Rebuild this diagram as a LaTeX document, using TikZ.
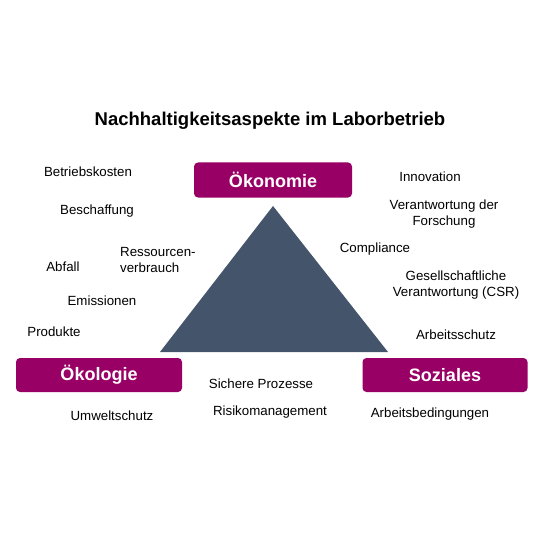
\documentclass[tikz,border=0pt]{standalone}
\usepackage{fontspec}
\setmainfont{Liberation Sans}
\definecolor{lila}{RGB}{153,0,102}
\definecolor{schiefer}{RGB}{68,84,106}
\tikzset{
  saeule/.style={fill=lila, rounded corners=4pt, text=white, font=\bfseries\fontsize{18}{20}\selectfont, inner sep=0pt},
  aspekt/.style={font=\fontsize{13.3}{15.7}\selectfont, align=center, inner sep=0pt}
}
\begin{document}
\begin{tikzpicture}[x=1pt, y=-1pt]
\useasboundingbox (0,0) rectangle (540,540);

\node[font=\bfseries\fontsize{18.5}{20}\selectfont] (Titel) at (270,121) {Nachhaltigkeitsaspekte im Laborbetrieb};

\fill[schiefer] (160,352) -- (273,206) -- (388,352) -- cycle;

\node[saeule, minimum width=158pt, minimum height=35pt] (Oekonomie) at (273,180) {Ökonomie};
\node[saeule, minimum width=166pt, minimum height=34pt] (Oekologie) at (99,375) {Ökologie};
\node[saeule, minimum width=165pt, minimum height=34pt] (Soziales) at (445,375) {Soziales};

% linke Seite
\node[aspekt] (Betriebskosten) at (88,172) {Betriebskosten};
\node[aspekt] (Beschaffung) at (97,211) {Beschaffung};
\node[aspekt, align=left, anchor=west] (Ressourcen) at (120,260) {Ressourcen-\\verbrauch};
\node[aspekt] (Abfall) at (63,267) {Abfall};
\node[aspekt] (Emissionen) at (102,301) {Emissionen};
\node[aspekt] (Produkte) at (54,332) {Produkte};
\node[aspekt] (Umweltschutz) at (112,416) {Umweltschutz};

% Mitte
\node[aspekt] (Prozesse) at (261,384) {Sichere Prozesse};
\node[aspekt] (Risiko) at (270,412) {Risikomanagement};

% rechte Seite
\node[aspekt] (Innovation) at (430,177) {Innovation};
\node[aspekt] (Forschung) at (444,214) {Verantwortung der\\Forschung};
\node[aspekt] (Compliance) at (375,249) {Compliance};
\node[aspekt] (CSR) at (456,285) {Gesellschaftliche\\Verantwortung (CSR)};
\node[aspekt] (Arbeitsschutz) at (456,335) {Arbeitsschutz};
\node[aspekt] (Arbeitsbedingungen) at (430,414) {Arbeitsbedingungen};

\end{tikzpicture}
\end{document}
